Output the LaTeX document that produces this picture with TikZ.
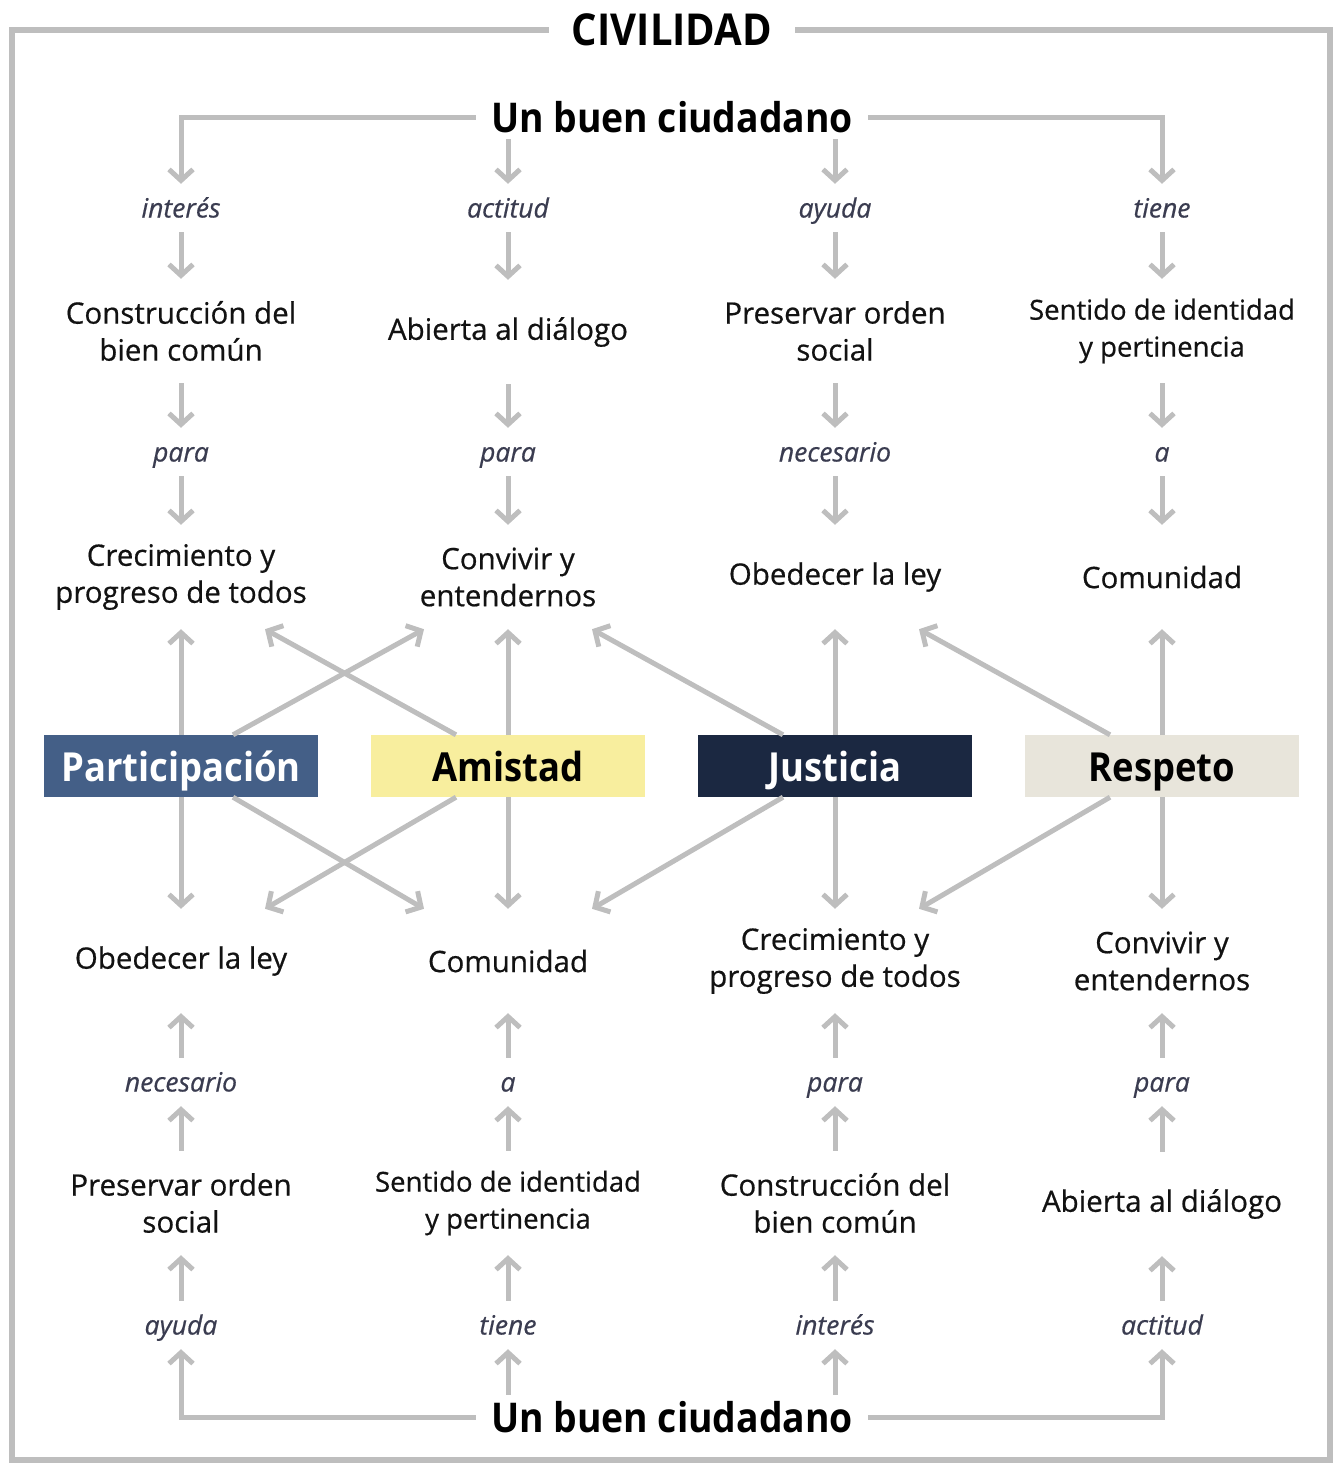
\documentclass[tikz,border=0pt]{standalone}
\usepackage{fontspec}
\setmainfont{Open Sans}[FakeBold=0.6]
\newfontfamily\headfont{Open Sans}[FakeStretch=0.91]
\usetikzlibrary{arrows.meta}
\definecolor{linegray}{HTML}{BEBEBE}
\definecolor{labelslate}{HTML}{3A3C50}
\definecolor{partblue}{HTML}{445F87}
\definecolor{amisyellow}{HTML}{F8EE9E}
\definecolor{justnavy}{HTML}{1B2841}
\definecolor{respbeige}{HTML}{E8E5DB}

\begin{document}
\begin{tikzpicture}[x=1pt,y=-1pt,
    arr/.style={draw=linegray,line width=5pt,-{Straight Barb[length=11pt,width=24pt]}},
    frame/.style={draw=linegray,line width=6pt},
    hub/.style={font=\headfont\bfseries\fontsize{41}{48}\selectfont,inner xsep=15pt,inner ysep=0pt,minimum height=44pt,text height=30pt,text depth=0pt},
    lbl/.style={font=\itshape\fontsize{26.5}{30}\selectfont,text=labelslate,inner sep=0pt,minimum height=48pt,text height=25pt,text depth=6pt},
    txt/.style={font=\fontsize{29.5}{37}\selectfont,text=black!93,align=center,inner sep=0pt,minimum height=104pt},
    small/.style={font=\fontsize{27.5}{37}\selectfont},
    box/.style={font=\headfont\bfseries\fontsize{40}{48}\selectfont,minimum width=274pt,minimum height=62pt,inner sep=0pt,text height=30pt,text depth=0pt}]
    \useasboundingbox (0,0) rectangle (1338,1464);

    % title and frame
    \node[font=\headfont\bfseries\fontsize{44}{48}\selectfont,inner xsep=23pt,inner ysep=0pt] (civ) at (672,30) {CIVILIDAD};
    \draw[frame] (civ.west) -| (12,1460) -| (1330,30) -- (civ.east);

    % upper half
    \node[hub] (hubtop) at (672,117) {Un buen ciudadano};

    \node[lbl] (la1) at (181,208) {interés};
    \node[lbl] (la2) at (508,208) {actitud};
    \node[lbl] (la3) at (835,208) {ayuda};
    \node[lbl] (la4) at (1162,208) {tiene};

    \node[txt] (ta1) at (181,331) {Construcción del\\bien común};
    \node[txt] (ta2) at (508,332) {Abierta al diálogo};
    \node[txt] (ta3) at (835,331) {Preservar orden\\social};
    \node[txt,small] (ta4) at (1162,331) {Sentido de identidad\\y pertinencia};

    \node[lbl] (lb1) at (181,452) {para};
    \node[lbl] (lb2) at (508,452) {para};
    \node[lbl] (lb3) at (835,452) {necesario};
    \node[lbl] (lb4) at (1162,452) {a};

    \node[txt] (tb1) at (181,577) {Crecimiento y\\progreso de todos};
    \node[txt] (tb2) at (508,577) {Convivir y\\entendernos};
    \node[txt] (tb3) at (835,577) {Obedecer la ley};
    \node[txt] (tb4) at (1162,577) {Comunidad};

    % values
    \node[box,fill=partblue,text=white] (part) at (181,766) {Participación};
    \node[box,fill=amisyellow] (amis) at (508,766) {Amistad};
    \node[box,fill=justnavy,text=white] (just) at (835,766) {Justicia};
    \node[box,fill=respbeige] (resp) at (1162,766) {Respeto};

    % lower half
    \node[txt] (tc1) at (181,961) {Obedecer la ley};
    \node[txt] (tc2) at (508,961) {Comunidad};
    \node[txt] (tc3) at (835,961) {Crecimiento y\\progreso de todos};
    \node[txt] (tc4) at (1162,961) {Convivir y\\entendernos};

    \node[lbl] (lc1) at (181,1082) {necesario};
    \node[lbl] (lc2) at (508,1082) {a};
    \node[lbl] (lc3) at (835,1082) {para};
    \node[lbl] (lc4) at (1162,1082) {para};

    \node[txt] (td1) at (181,1203) {Preservar orden\\social};
    \node[txt,small] (td2) at (508,1203) {Sentido de identidad\\y pertinencia};
    \node[txt] (td3) at (835,1203) {Construcción del\\bien común};
    \node[txt] (td4) at (1162,1204) {Abierta al diálogo};

    \node[lbl] (ld1) at (181,1325) {ayuda};
    \node[lbl] (ld2) at (508,1325) {tiene};
    \node[lbl] (ld3) at (835,1325) {interés};
    \node[lbl] (ld4) at (1162,1325) {actitud};

    \node[hub] (hubbot) at (672,1417) {Un buen ciudadano};

    % arrows, upper half
    \draw[arr] (hubtop.west) -| (la1.north);
    \draw[arr] (hubtop.south -| la2) -- (la2.north);
    \draw[arr] (hubtop.south -| la3) -- (la3.north);
    \draw[arr] (hubtop.east) -| (la4.north);
    \draw[arr] (la1.south) -- (ta1.north);
    \draw[arr] (la2.south) -- (ta2.north);
    \draw[arr] (la3.south) -- (ta3.north);
    \draw[arr] (la4.south) -- (ta4.north);
    \draw[arr] (ta1.south) -- (lb1.north);
    \draw[arr] (ta2.south) -- (lb2.north);
    \draw[arr] (ta3.south) -- (lb3.north);
    \draw[arr] (ta4.south) -- (lb4.north);
    \draw[arr] (lb1.south) -- (tb1.north);
    \draw[arr] (lb2.south) -- (tb2.north);
    \draw[arr] (lb3.south) -- (tb3.north);
    \draw[arr] (lb4.south) -- (tb4.north);

    \draw[arr] (part.north) -- (tb1.south);
    \draw[arr] (amis.north) -- (tb2.south);
    \draw[arr] (just.north) -- (tb3.south);
    \draw[arr] (resp.north) -- (tb4.south);
    \draw[arr] ([xshift=52pt]part.north) -- ([xshift=-84pt]tb2.south);
    \draw[arr] ([xshift=-52pt]amis.north) -- ([xshift=84pt]tb1.south);
    \draw[arr] ([xshift=-52pt]just.north) -- ([xshift=84pt]tb2.south);
    \draw[arr] ([xshift=-52pt]resp.north) -- ([xshift=84pt]tb3.south);

    % arrows, lower half
    \draw[arr] (part.south) -- (tc1.north);
    \draw[arr] (amis.south) -- (tc2.north);
    \draw[arr] (just.south) -- (tc3.north);
    \draw[arr] (resp.south) -- (tc4.north);
    \draw[arr] ([xshift=52pt]part.south) -- ([xshift=-84pt]tc2.north);
    \draw[arr] ([xshift=-52pt]amis.south) -- ([xshift=84pt]tc1.north);
    \draw[arr] ([xshift=-52pt]just.south) -- ([xshift=84pt]tc2.north);
    \draw[arr] ([xshift=-52pt]resp.south) -- ([xshift=84pt]tc3.north);

    \draw[arr] (lc1.north) -- (tc1.south);
    \draw[arr] (lc2.north) -- (tc2.south);
    \draw[arr] (lc3.north) -- (tc3.south);
    \draw[arr] (lc4.north) -- (tc4.south);
    \draw[arr] (td1.north) -- (lc1.south);
    \draw[arr] (td2.north) -- (lc2.south);
    \draw[arr] (td3.north) -- (lc3.south);
    \draw[arr] (td4.north) -- (lc4.south);
    \draw[arr] (ld1.north) -- (td1.south);
    \draw[arr] (ld2.north) -- (td2.south);
    \draw[arr] (ld3.north) -- (td3.south);
    \draw[arr] (ld4.north) -- (td4.south);

    \draw[arr] (hubbot.west) -| (ld1.south);
    \draw[arr] (hubbot.north -| ld2) -- (ld2.south);
    \draw[arr] (hubbot.north -| ld3) -- (ld3.south);
    \draw[arr] (hubbot.east) -| (ld4.south);
\end{tikzpicture}
\end{document}
